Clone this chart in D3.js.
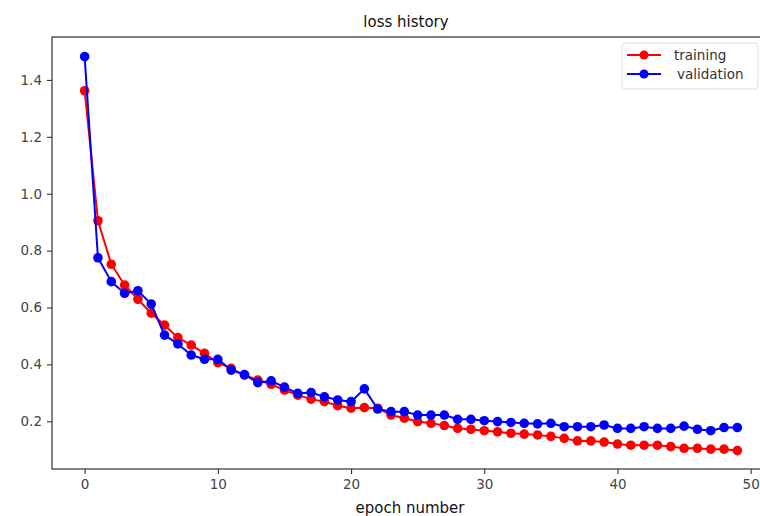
<!DOCTYPE html>
<html>
<head>
<meta charset="utf-8">
<script src="https://cdn.jsdelivr.net/npm/d3@7/dist/d3.min.js"></script>
<style>
  html, body { margin: 0; padding: 0; background: #fff; }
  svg { display: block; }
  text { font-family: "DejaVu Sans", sans-serif; }
</style>
</head>
<body>
<svg id="chart" width="760" height="516"></svg>
<script>
const epochs = d3.range(0, 50);
const trainingLoss = [
  1.362, 0.905, 0.752, 0.679, 0.629, 0.580, 0.538, 0.494, 0.468, 0.439,
  0.406, 0.386, 0.362, 0.345, 0.330, 0.310, 0.292, 0.278, 0.269, 0.255,
  0.246, 0.248, 0.246, 0.222, 0.211, 0.199, 0.193, 0.185, 0.175, 0.172,
  0.167, 0.163, 0.158, 0.155, 0.152, 0.147, 0.140, 0.131, 0.131, 0.127,
  0.120, 0.116, 0.116, 0.116, 0.111, 0.105, 0.105, 0.102, 0.102, 0.097
];
const validationLoss = [
  1.482, 0.775, 0.691, 0.650, 0.659, 0.612, 0.503, 0.472, 0.433, 0.418,
  0.418, 0.380, 0.364, 0.336, 0.342, 0.320, 0.298, 0.301, 0.286, 0.275,
  0.269, 0.314, 0.243, 0.234, 0.234, 0.222, 0.222, 0.222, 0.207, 0.207,
  0.202, 0.199, 0.196, 0.193, 0.191, 0.193, 0.181, 0.181, 0.181, 0.187,
  0.175, 0.175, 0.181, 0.175, 0.175, 0.183, 0.172, 0.167, 0.178, 0.178
];
const xTicks = [0, 10, 20, 30, 40, 50];
const yTicks = [0.2, 0.4, 0.6, 0.8, 1.0, 1.2, 1.4];
const seriesNames = ["training", "validation"];
const seriesColors = ["#ff0000", "#0000ff"];

const svg = d3.select("#chart");
const plot = { left: 52, right: 770, top: 37, bottom: 469 };

const x = d3.scaleLinear().domain([-2.45, 51.45]).range([plot.left, plot.right]);
const y = d3.scaleLinear().domain([0.0323, 1.551]).range([plot.bottom, plot.top]);

const axisColor = "#333";
const tickTextColor = "#444";

// Frame (spines)
svg.append("rect")
  .attr("x", plot.left).attr("y", plot.top)
  .attr("width", plot.right - plot.left).attr("height", plot.bottom - plot.top)
  .attr("fill", "none").attr("stroke", axisColor).attr("stroke-width", 1.2);

// Axes
const xAxis = d3.axisBottom(x).tickValues(xTicks).tickFormat(d3.format("d")).tickSize(5).tickPadding(5);
const yAxis = d3.axisLeft(y).tickValues(yTicks).tickFormat(d3.format(".1f")).tickSize(5).tickPadding(5);

const gx = svg.append("g").attr("transform", `translate(0,${plot.bottom})`).call(xAxis);
const gy = svg.append("g").attr("transform", `translate(${plot.left},0)`).call(yAxis);
[gx, gy].forEach(g => {
  g.select(".domain").remove();
  g.selectAll(".tick line").attr("stroke", axisColor).attr("stroke-width", 1.1);
  g.selectAll(".tick text").attr("fill", tickTextColor).style("font-size", "13.5px")
    .style("font-family", "'DejaVu Sans', sans-serif");
});

// Series
const line = d3.line().x((d, i) => x(epochs[i])).y(d => y(d));
const allSeries = [trainingLoss, validationLoss];
allSeries.forEach((vals, si) => {
  const g = svg.append("g");
  g.append("path").datum(vals)
    .attr("d", line).attr("fill", "none")
    .attr("stroke", seriesColors[si]).attr("stroke-width", 2)
    .attr("stroke-linejoin", "round");
  g.selectAll("circle").data(vals).join("circle")
    .attr("cx", (d, i) => x(epochs[i])).attr("cy", d => y(d))
    .attr("r", 4.8).attr("fill", seriesColors[si]);
});

// Title and label
svg.append("text").attr("x", 406).attr("y", 27).attr("text-anchor", "middle")
  .style("font-size", "15px").attr("fill", "#111").text("loss history");
svg.append("text").attr("x", 410).attr("y", 513).attr("text-anchor", "middle")
  .style("font-size", "15px").attr("fill", "#111").text("epoch number");

// Legend
const lg = svg.append("g");
lg.append("rect").attr("x", 622).attr("y", 43).attr("width", 136).attr("height", 46)
  .attr("rx", 3).attr("fill", "#fff").attr("stroke", "#ddd").attr("stroke-width", 1);
seriesNames.forEach((name, i) => {
  const ly = 55 + i * 19;
  lg.append("line").attr("x1", 627).attr("x2", 661).attr("y1", ly).attr("y2", ly)
    .attr("stroke", seriesColors[i]).attr("stroke-width", 2);
  lg.append("circle").attr("cx", 644).attr("cy", ly).attr("r", 4.5).attr("fill", seriesColors[i]);
  lg.append("text").attr("x", i === 0 ? 674 : 677).attr("y", ly + 4.5)
    .style("font-size", "13.5px").attr("fill", "#333").text(name);
});
</script>
</body>
</html>
